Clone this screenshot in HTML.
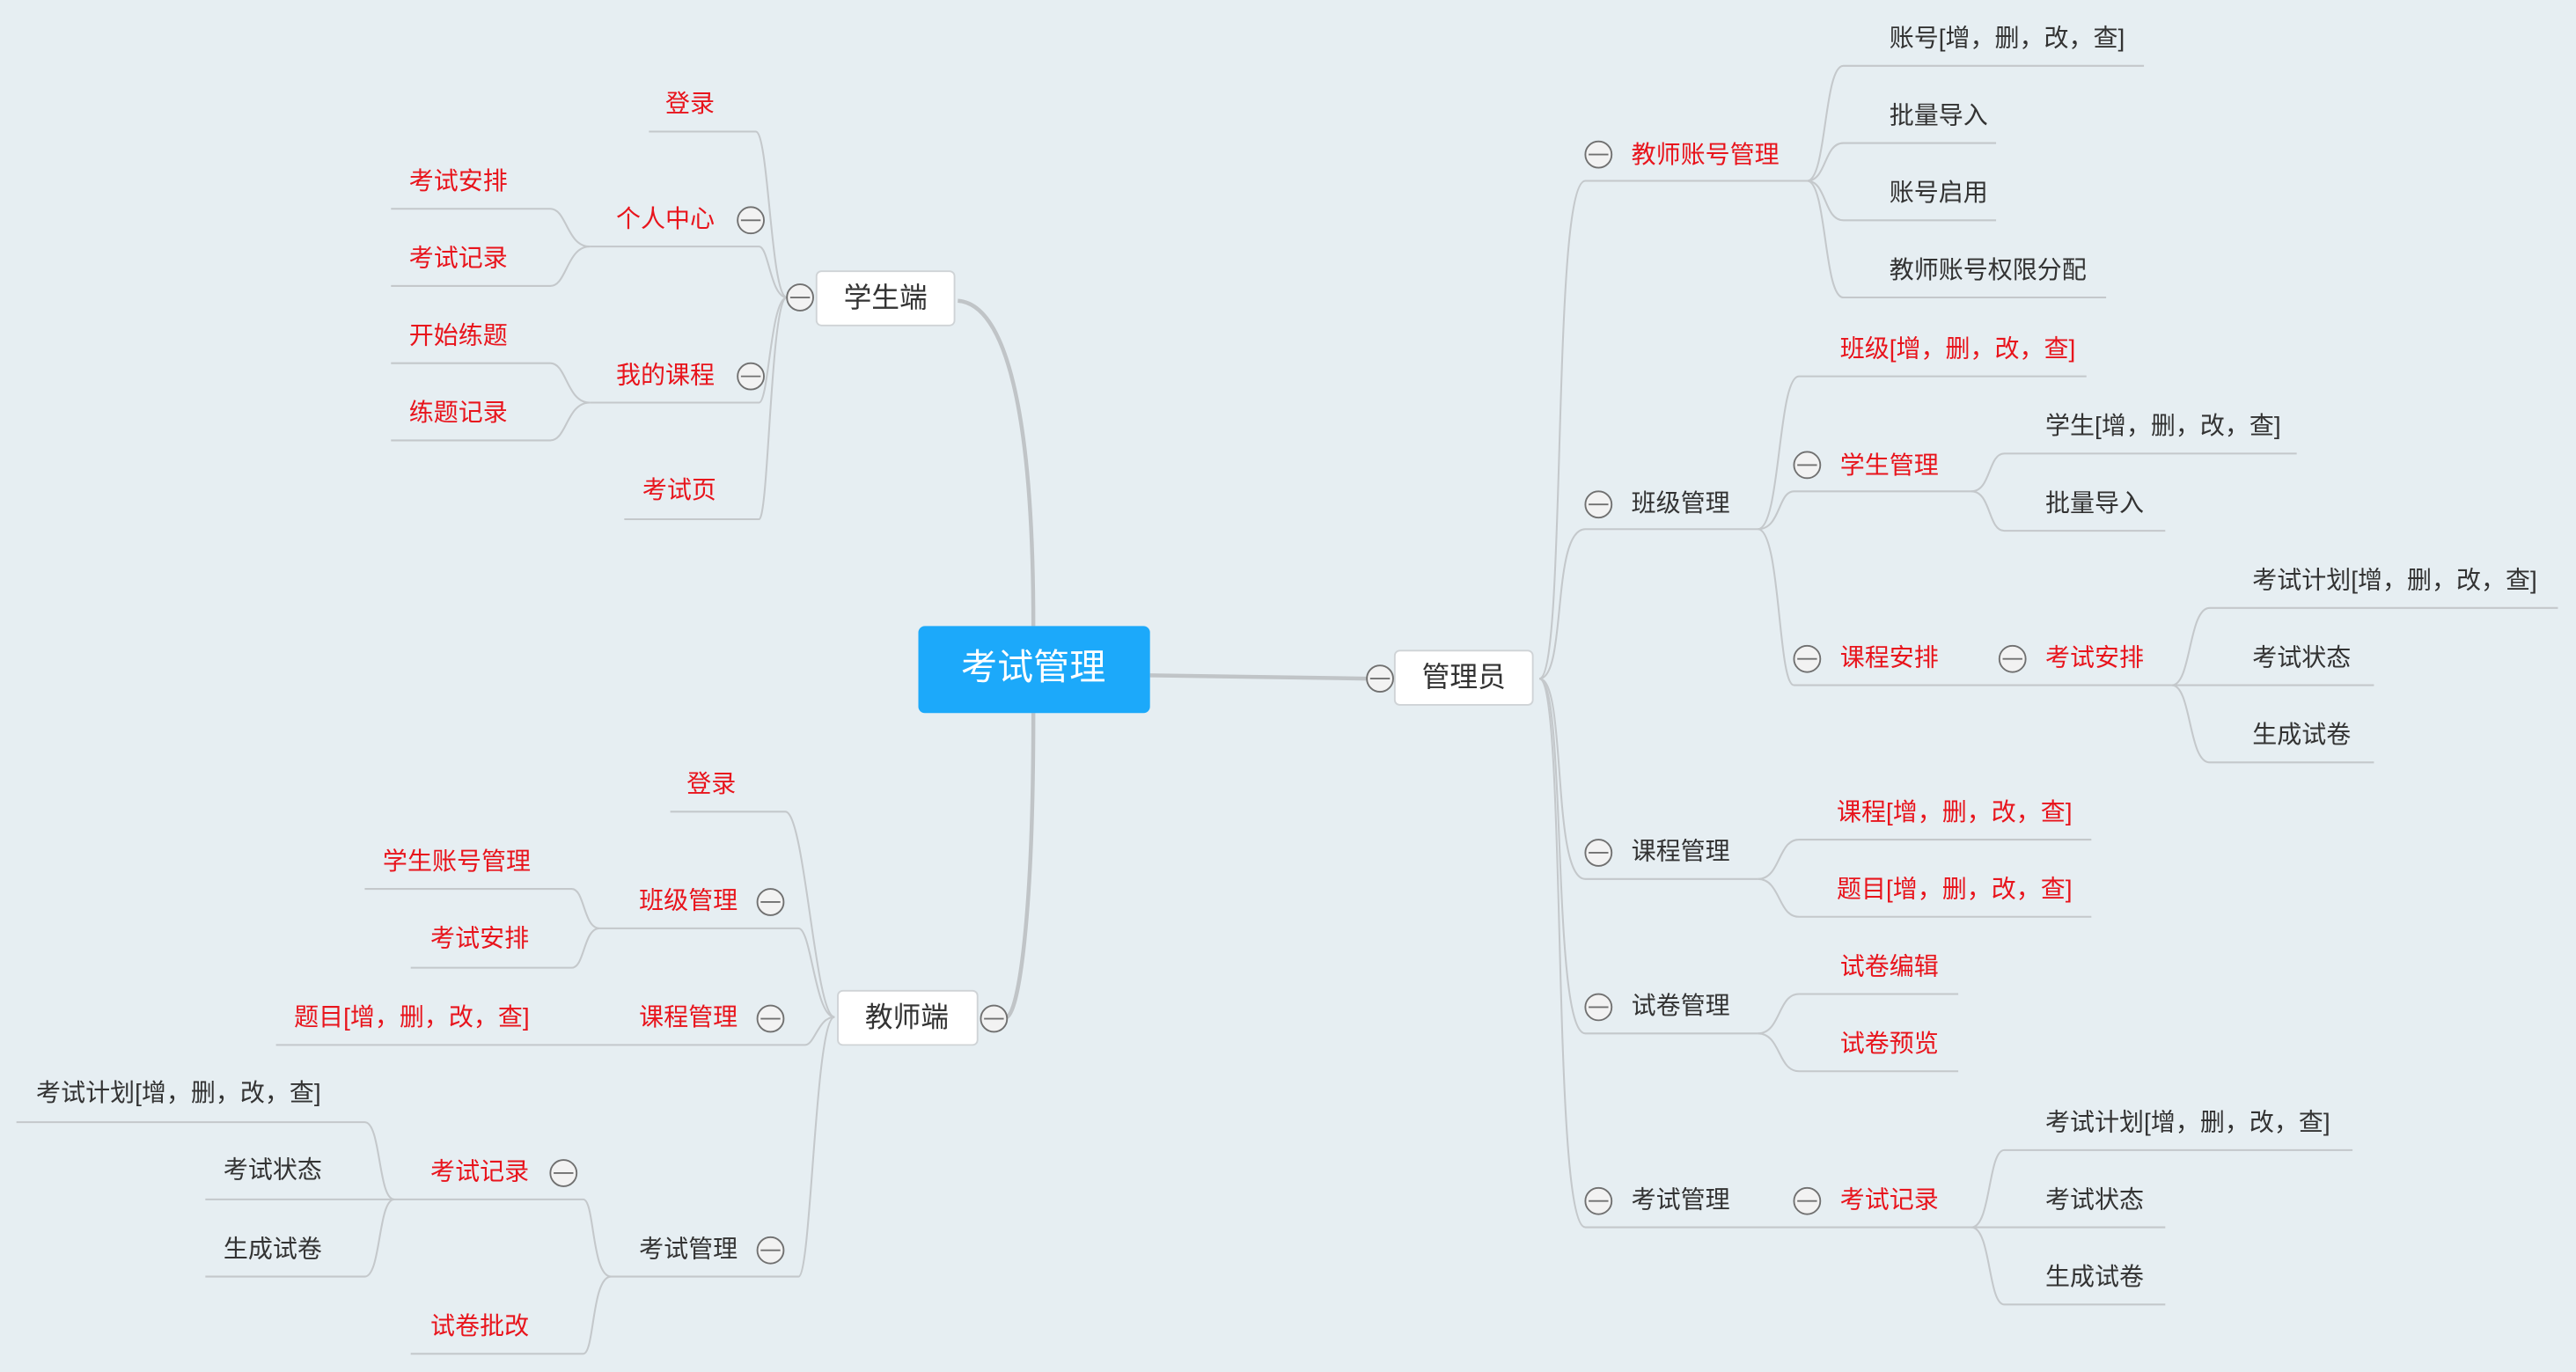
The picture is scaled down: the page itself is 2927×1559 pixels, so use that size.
<!DOCTYPE html>
<html><head><meta charset="utf-8"><style>
html,body{margin:0;padding:0;background:#e6eef2;}
svg{display:block;}
text{font-family:"Liberation Sans","Noto Sans CJK SC",sans-serif;dominant-baseline:central;}
.r{fill:#e8141c;font-size:15px;}
.d{fill:#333;font-size:15px;}
.l{fill:none;stroke:#c4c8cb;stroke-width:1.1;}
.m{fill:none;stroke:#c0c4c7;stroke-width:2.4;}
.c{fill:#f2f2f2;stroke:#707070;stroke-width:1;}
</style></head><body>
<svg width="2927" height="1559" viewBox="0 0 1568 835" xmlns="http://www.w3.org/2000/svg">
<rect width="1568" height="835" fill="#e6eef2"/>
<defs>
<g id="cc"><circle class="c" r="8"/><line x1="-6" y1="0" x2="6" y2="0" stroke="#707070" stroke-width="1"/></g>
</defs>
<!-- main lines -->
<path class="m" d="M629 381 C629 250 612 185 583 183"/>
<path class="m" d="M629 434 C629 560 620 615 613 619"/>
<path class="m" d="M700 411 L832 413"/>

<!-- root -->
<rect x="559" y="381" width="141" height="53" rx="4" fill="#1ca9fa"/>
<text x="629" y="406" fill="#fff" font-size="22" text-anchor="middle">考试管理</text>

<!-- ===== 学生端 ===== -->
<rect x="497" y="165" width="84" height="33" rx="3" fill="#fff" stroke="#cfd3d6"/>
<text x="539" y="181" font-size="17" fill="#333" text-anchor="middle">学生端</text>
<path class="l" d="M479 181 C469 181 468 80 460 80 L395 80"/>
<path class="l" d="M479 181 C469 181 468 150 462 150 L359 150"/>
<path class="l" d="M479 181 C469 181 468 245 462 245 L359 245"/>
<path class="l" d="M479 181 C469 181 468 316 462 316 L380 316"/>
<path class="l" d="M359 150 C345 150 345 127 335 127 L238 127"/>
<path class="l" d="M359 150 C345 150 345 174 335 174 L238 174"/>
<path class="l" d="M359 245 C345 245 345 221 335 221 L238 221"/>
<path class="l" d="M359 245 C345 245 345 268 335 268 L238 268"/>
<use href="#cc" x="487" y="181"/>
<text class="r" x="405" y="63">登录</text>
<text class="r" x="375" y="133">个人中心</text><use href="#cc" x="457" y="134"/>
<text class="r" x="249" y="110">考试安排</text>
<text class="r" x="249" y="157">考试记录</text>
<text class="r" x="375" y="228">我的课程</text><use href="#cc" x="457" y="229"/>
<text class="r" x="249" y="204">开始练题</text>
<text class="r" x="249" y="251">练题记录</text>
<text class="r" x="391" y="298">考试页</text>

<!-- ===== 教师端 ===== -->
<path class="l" d="M508 619 C496 619 490 494 478 494 L408 494"/>
<path class="l" d="M508 619 C496 619 494 565 486 565 L365 565"/>
<path class="l" d="M508 619 C498 619 496 636 490 636 L168 636"/>
<path class="l" d="M508 619 C496 619 494 777 486 777 L372 777"/>
<path class="l" d="M365 565 C355 565 356 541 348 541 L222 541"/>
<path class="l" d="M365 565 C355 565 356 589 348 589 L250 589"/>
<path class="l" d="M372 777 C360 777 362 730 355 730 L240 730"/>
<path class="l" d="M372 777 C360 777 362 824 355 824 L250 824"/>
<path class="l" d="M240 730 C230 730 232 683 222 683 L10 683"/>
<path class="l" d="M240 730 L125 730"/>
<path class="l" d="M240 730 C230 730 232 777 222 777 L125 777"/>
<rect x="510" y="603" width="85" height="33" rx="3" fill="#fff" stroke="#cfd3d6"/>
<text x="552" y="619" font-size="17" fill="#333" text-anchor="middle">教师端</text>
<use href="#cc" x="605" y="620"/>
<text class="r" x="418" y="477">登录</text>
<text class="r" x="389" y="548">班级管理</text><use href="#cc" x="469" y="549"/>
<text class="r" x="233" y="524">学生账号管理</text>
<text class="r" x="262" y="571">考试安排</text>
<text class="r" x="389" y="619">课程管理</text><use href="#cc" x="469" y="620"/>
<text class="r" x="179" y="619">题目[增，删，改，查]</text>
<text class="d" x="389" y="760">考试管理</text><use href="#cc" x="469" y="761"/>
<text class="r" x="262" y="713">考试记录</text><use href="#cc" x="343" y="714"/>
<text class="d" x="22" y="665">考试计划[增，删，改，查]</text>
<text class="d" x="136" y="712">考试状态</text>
<text class="d" x="136" y="760">生成试卷</text>
<text class="r" x="262" y="807">试卷批改</text>

<!-- ===== 管理员 ===== -->
<path class="l" d="M937 413 C954 413 944 110 965 110 L1100 110"/>
<path class="l" d="M937 413 C954 413 944 322 965 322 L1070 322"/>
<path class="l" d="M937 413 C954 413 944 535 965 535 L1070 535"/>
<path class="l" d="M937 413 C954 413 944 629 965 629 L1070 629"/>
<path class="l" d="M937 413 C954 413 944 747 965 747 L1200 747"/>
<!-- 教师账号管理 -->
<path class="l" d="M1100 110 C1112 110 1110 40 1122 40 L1305 40"/>
<path class="l" d="M1100 110 C1112 110 1110 87 1122 87 L1215 87"/>
<path class="l" d="M1100 110 C1112 110 1110 134 1122 134 L1215 134"/>
<path class="l" d="M1100 110 C1112 110 1110 181 1122 181 L1282 181"/>
<!-- 班级管理 -->
<path class="l" d="M1070 322 C1084 322 1082 229 1095 229 L1270 229"/>
<path class="l" d="M1070 322 C1084 322 1082 299 1092 299 L1200 299"/>
<path class="l" d="M1070 322 C1084 322 1082 417 1092 417 L1322 417"/>
<path class="l" d="M1200 299 C1212 299 1210 276 1220 276 L1398 276"/>
<path class="l" d="M1200 299 C1212 299 1210 323 1220 323 L1318 323"/>
<path class="l" d="M1322 417 C1334 417 1332 370 1345 370 L1557 370"/>
<path class="l" d="M1322 417 L1445 417"/>
<path class="l" d="M1322 417 C1334 417 1332 464 1345 464 L1445 464"/>
<!-- 课程管理 -->
<path class="l" d="M1070 535 C1084 535 1082 511 1095 511 L1273 511"/>
<path class="l" d="M1070 535 C1084 535 1082 558 1095 558 L1273 558"/>
<!-- 试卷管理 -->
<path class="l" d="M1070 629 C1084 629 1082 605 1095 605 L1192 605"/>
<path class="l" d="M1070 629 C1084 629 1082 652 1095 652 L1192 652"/>
<!-- 考试管理 -->
<path class="l" d="M1200 747 C1212 747 1210 700 1220 700 L1432 700"/>
<path class="l" d="M1200 747 L1318 747"/>
<path class="l" d="M1200 747 C1212 747 1210 794 1220 794 L1318 794"/>

<rect x="849" y="396" width="84" height="33" rx="3" fill="#fff" stroke="#cfd3d6"/>
<text x="891" y="412" font-size="17" fill="#333" text-anchor="middle">管理员</text>
<use href="#cc" x="840" y="413"/>

<use href="#cc" x="973" y="94"/><text class="r" x="993" y="94">教师账号管理</text>
<text class="d" x="1150" y="23">账号[增，删，改，查]</text>
<text class="d" x="1150" y="70">批量导入</text>
<text class="d" x="1150" y="117">账号启用</text>
<text class="d" x="1150" y="164">教师账号权限分配</text>

<use href="#cc" x="973" y="307"/><text class="d" x="993" y="306">班级管理</text>
<text class="r" x="1120" y="212">班级[增，删，改，查]</text>
<use href="#cc" x="1100" y="283"/><text class="r" x="1120" y="283">学生管理</text>
<text class="d" x="1245" y="259">学生[增，删，改，查]</text>
<text class="d" x="1245" y="306">批量导入</text>
<use href="#cc" x="1100" y="401"/><text class="r" x="1120" y="400">课程安排</text>
<use href="#cc" x="1225" y="401"/><text class="r" x="1245" y="400">考试安排</text>
<text class="d" x="1371" y="353">考试计划[增，删，改，查]</text>
<text class="d" x="1371" y="400">考试状态</text>
<text class="d" x="1371" y="447">生成试卷</text>

<use href="#cc" x="973" y="519"/><text class="d" x="993" y="518">课程管理</text>
<text class="r" x="1118" y="494">课程[增，删，改，查]</text>
<text class="r" x="1118" y="541">题目[增，删，改，查]</text>

<use href="#cc" x="973" y="613"/><text class="d" x="993" y="612">试卷管理</text>
<text class="r" x="1120" y="588">试卷编辑</text>
<text class="r" x="1120" y="635">试卷预览</text>

<use href="#cc" x="973" y="731"/><text class="d" x="993" y="730">考试管理</text>
<use href="#cc" x="1100" y="731"/><text class="r" x="1120" y="730">考试记录</text>
<text class="d" x="1245" y="683">考试计划[增，删，改，查]</text>
<text class="d" x="1245" y="730">考试状态</text>
<text class="d" x="1245" y="777">生成试卷</text>
</svg>
</body></html>
